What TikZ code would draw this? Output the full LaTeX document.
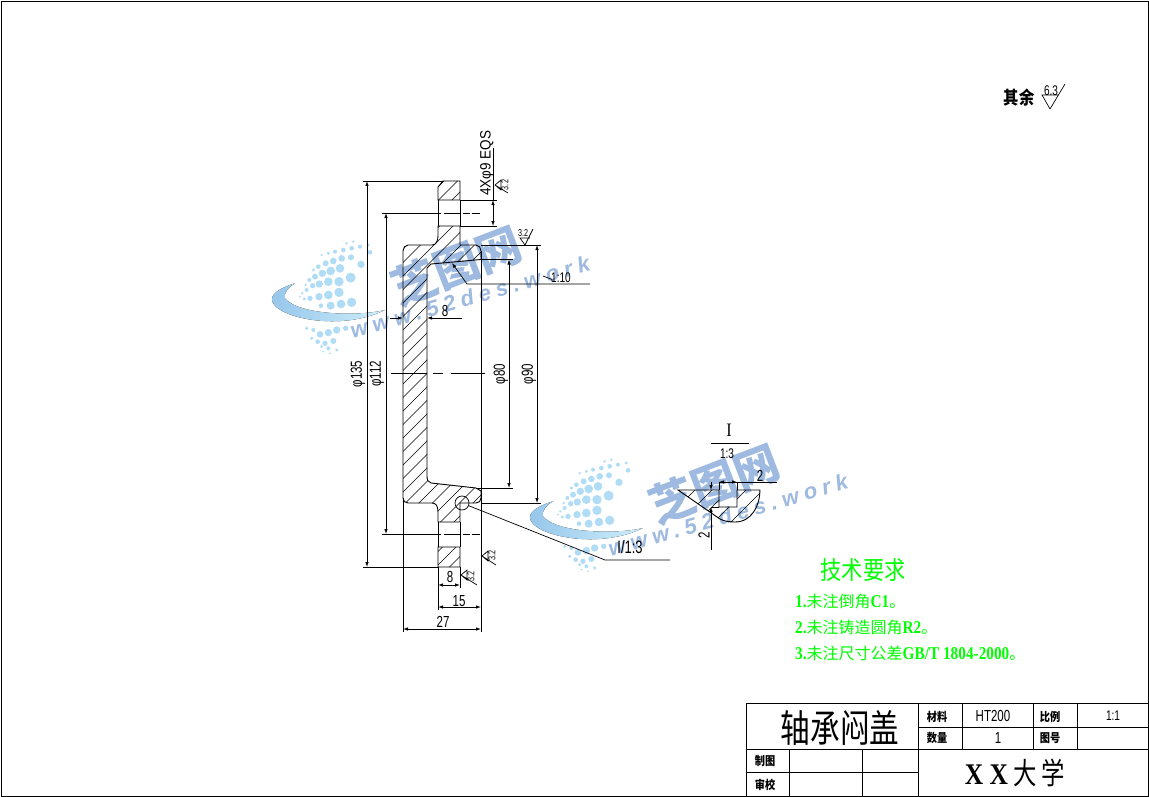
\documentclass[tikz,border=0pt]{standalone}
\usepackage{fontspec}
\usepackage{xcolor}
\usepackage{tikz}
\usetikzlibrary{arrows.meta}
\newfontfamily\dimfont[FakeStretch=0.72]{Liberation Sans}
\newfontfamily\widefont[FakeStretch=0.9]{Liberation Sans}
\newfontfamily\techfont[FakeStretch=0.85]{Liberation Serif}
\newfontfamily\cjkfont[FakeStretch=0.85]{Noto Sans CJK SC}
\newfontfamily\tallfont[FakeStretch=0.78]{Noto Sans CJK SC}
\newfontfamily\logofont{Noto Sans CJK SC}
\newfontfamily\wwwfont[LetterSpace=25]{Liberation Sans}
\newcommand{\fsz}[1]{\fontsize{#1}{#1}\selectfont}
\definecolor{wmblue}{RGB}{158,186,224}
\definecolor{wmdot}{RGB}{176,220,246}
\definecolor{wmdark}{RGB}{150,198,235}
\definecolor{wmpale}{RGB}{205,238,250}
\definecolor{techgreen}{RGB}{0,255,0}

% one copy of the site mark
\newcommand{\sitemark}[2]{
  \begin{scope}[shift={(#1,#2)}]
    \begin{scope}[shift={(265,235)},scale=0.3333]
      \foreach \dx/\dy/\dr in {265/20/4,245/25/4,285/35/6,310/30/5,315/52/7,260/40/7,235/45/7,210/50/6,190/55/5,170/60/4,
          258/67/9,230/70/10,205/78/10,182/85/9,160/95/7,145/105/5,
          288/88/11,225/100/13,197/108/13,172/115/11,150/125/9,133/135/6,122/150/4,
          257/128/15,222/140/14,190/140/13,163/147/11,143/152/8,125/165/6,112/175/4,
          222/172/14,190/180/13,162/185/11,135/190/8,118/192/5,105/185/3,
          260/202/14,228/207/13,197/212/12,168/212/7,
          242/280/8,215/285/11,190/293/11,165/298/10,145/285/6,125/280/5,
          205/318/9,180/325/8,158/320/7,140/310/5,215/345/5,190/340/6,170/335/5,195/355/3,175/350/3} {
        \fill[wmdot] (\dx,\dy) circle ({\dr});
      }
      \fill[left color=wmdark,right color=wmpale] (90,145) .. controls (40,160) and (15,180) .. (22,200)
        .. controls (40,250) and (230,290) .. (360,225) .. controls (280,245) and (100,240) .. (60,190)
        .. controls (55,175) and (70,155) .. (90,145) -- cycle;
    \end{scope}
    \node[rotate=21,text=wmblue,font=\logofont\bfseries\fsz{45}] (logo#1) at (456,266) {芝图网};
    \node[rotate=16,text=wmblue,font=\wwwfont\bfseries\itshape\fsz{22}] (url#1) at (470,297) {www.52des.work};
  \end{scope}
}

% the section, as one closed path
\newcommand{\sectionpath}{
  (443,181) -- (460,181) -- (460,200) -- (438,200) -- (438,187) -- cycle
  (438,226) -- (460,226) -- (460,245) -- (476,245) .. controls (479,245) and (481,248) .. (481,251)
  -- (481,259.5) -- (431,264) -- (427,268) -- (427,476) .. controls (427,480) and (428,482) .. (431,483)
  -- (476,488) -- (481,491) -- (481,498) .. controls (481,501) and (479,503) .. (476,503) -- (460,503)
  -- (460,522) -- (438,522) -- (438,512) .. controls (438,506) and (436,503) .. (432,503) -- (408,503)
  .. controls (405,503) and (403,501) .. (403,498) -- (403,251) .. controls (403,248) and (405,245) .. (408,245)
  -- (432,245) .. controls (436,245) and (438,241) .. (438,236) -- cycle
  (438,547) -- (460,547) -- (460,567) -- (438,567) -- cycle
}
\newcommand{\detailpath}{
  (678,490) -- (719,490) -- (719,507) -- (737,507) -- (737,490) -- (760,490)
  .. controls (760,505) and (752,522) .. (735,522) .. controls (728,522) and (724,521) .. (720,519) -- cycle
}

\begin{document}
\begin{tikzpicture}[x=1pt,y=-1pt,
    main line/.style={line width=0.9pt},
    thin line/.style={line width=0.7pt},
    hatch line/.style={line width=0.6pt},
    dim line/.style={line width=0.8pt,{Latex[length=5pt,width=3.5pt]}-{Latex[length=5pt,width=3.5pt]}},
    dim end/.style={line width=0.8pt,-{Latex[length=5pt,width=3.5pt]}},
    dim text/.style={inner sep=0pt,font=\dimfont\fsz{16}},
    ratio text/.style={inner sep=0pt,font=\dimfont\fsz{14}},
    small text/.style={inner sep=0pt,font=\dimfont\fsz{10}},
    title text/.style={inner sep=0pt,font=\cjkfont\bfseries\fsz{12}},
    tech text/.style={inner sep=0pt,anchor=west,text=techgreen,font=\logofont\fsz{16}}]

  \useasboundingbox (0,0) rectangle (1149,797);
  \fill[white] (0,0) rectangle (1149,797);
  \draw[main line] (1,1) rectangle (1148,796);

  \sitemark{0}{0}
  \sitemark{258}{218}

  % section hatching
  \begin{scope}
    \clip \sectionpath;
    \foreach \h in {611.5,625,...,1120} {
      \draw[hatch line] (\h,0) -- (\h-800,800);
    }
  \end{scope}
  \draw[main line] \sectionpath;

  % edges and extension lines
  \draw[main line] (438,200) -- (438,226) (460,200) -- (460,226);
  \draw[main line] (438,522) -- (438,547) (460,522) -- (460,547);
  \draw[main line] (481,251) -- (481,632);
  \draw[thin line] (403,498) -- (403,632);
  \draw[thin line] (438,567) -- (438,610);
  \draw[thin line] (460,567) -- (460,588);
  \draw[thin line] (363,181) -- (443,181);
  \draw[thin line] (363,567) -- (438,567);
  \draw[thin line] (460,200) -- (497,200);
  \draw[thin line] (460,226) -- (497,226);
  \draw[thin line] (481,245) -- (541,245);
  \draw[thin line] (481,503) -- (541,503);
  \draw[thin line] (481,259.5) -- (513,259.5);
  \draw[thin line] (476,488) -- (513,488);
  \draw[thin line] (382,213) -- (441,213);
  \draw[thin line] (382,534) -- (441,534);

  % centre lines
  \draw[thin line] (444,213) -- (460,213) (463,213) -- (470,213) (472,213) -- (480,213);
  \draw[thin line] (444,534) -- (460,534) (463,534) -- (470,534) (472,534) -- (480,534);
  \draw[thin line] (391,373) -- (427,373) (433,373) -- (443,373) (451,373) -- (485,373);

  % dimensions
  \draw[dim line] (367,181) -- (367,567);
  \draw[dim line] (386,213) -- (386,534);
  \draw[dim line] (509,259.5) -- (509,488);
  \draw[dim line] (537,245) -- (537,503);
  \draw[dim end] (390,318) -- (403,318);
  \draw[dim end] (462,318) -- (427,318);
  \draw[dim line] (438,585) -- (460,585);
  \draw[dim line] (438,607) -- (481,607);
  \draw[dim line] (403,629) -- (481,629);
  \draw[thin line] (493,148) -- (493,200);
  \draw[dim line] (493,200) -- (493,226);

  \node[dim text,rotate=90] (d135) at (358,374) {φ135};
  \node[dim text,rotate=90] (d112) at (377,374) {φ112};
  \node[dim text,rotate=90] (d80) at (501,374) {φ80};
  \node[dim text,rotate=90] (d90) at (529,374) {φ90};
  \node[dim text] (w8a) at (445,311) {8};
  \node[dim text] (w8b) at (450,577) {8};
  \node[dim text] (w15) at (459,601) {15};
  \node[dim text] (w27) at (443,622) {27};
  \node[inner sep=0pt,font=\widefont\fsz{15},rotate=90] (holes) at (487,163) {4Xφ9 EQS};

  % taper leader
  \coordinate (taperbend) at (467,284);
  \coordinate (taperend) at (590,284);
  \draw[thin line,{Latex[length=5pt,width=3.5pt]}-] (452,263) -- (taperbend) -- (taperend);
  \draw[thin line] (543,276) -- (552,279.5) -- (552,281);
  \node[ratio text] (taper) at (561,278) {1:10};

  % roughness marks
  \draw[thin line] (525,245) -- (520,238) -- (530,238) (525,245) -- (533,229);
  \node[small text] (r1) at (523,233) {3.2};
  \draw[thin line] (495,185) -- (501,180) -- (501,190) -- cycle (495,185) -- (508,193);
  \node[small text,rotate=90] (r2) at (505,185) {3.2};
  \draw[thin line] (482,556) -- (488,551) -- (488,561) -- cycle (482,556) -- (496,565);
  \node[small text,rotate=90] (r3) at (492,555) {3.2};
  \draw[thin line] (461,575) -- (467,570) -- (467,580) -- cycle (461,575) -- (477,585);
  \node[small text,rotate=90] (r4) at (471,576) {3.2};
  \draw[thin line] (1050,109) -- (1042,95) -- (1058,95) (1050,109) -- (1065,84);
  \node[ratio text] (r5) at (1051,91) {6.3};
  \node[inner sep=0pt,font=\cjkfont\bfseries\fsz{18}] (rest) at (1019,98) {其余};

  % detail mark
  \node[circle,draw,thin line,minimum size=14pt,inner sep=0pt] (mark) at (462,503) {};
  \coordinate (markbend) at (605,560);
  \coordinate (markend) at (670,560);
  \draw[thin line] (mark) -- (markbend) -- (markend);
  \node[inner sep=0pt,font=\dimfont\fsz{18}] (marktext) at (630,547) {I/1:3};

  % detail view
  \begin{scope}
    \clip \detailpath;
    \foreach \h in {1134,1151,...,1300} {
      \draw[hatch line] (\h,0) -- (\h-800,800);
    }
  \end{scope}
  \draw[main line] \detailpath;
  \draw[thin line] (711,443) -- (749,443);
  \node[inner sep=0pt,font=\techfont\fsz{19}] (dtitle) at (729,430) {I};
  \node[ratio text] (dscale) at (727,454) {1:3};
  \draw[thin line] (719,482) -- (719,490) (737,482) -- (737,490);
  \draw[thin line] (711,507) -- (719,507);
  \draw[thin line] (719,482) -- (777,482);
  \draw[dim end] (730,482) -- (719,482);
  \draw[dim end] (726,482) -- (737,482);
  \draw[dim end] (711,482) -- (711,490);
  \draw[dim end] (711,550) -- (711,507);
  \node[dim text] (gapw) at (760,476) {2};
  \node[dim text,rotate=90] (gaph) at (704,535) {2};

  % technical notes
  \node[inner sep=0pt,text=techgreen,font=\cjkfont\fsz{25}] (notes) at (863,570) {技术要求};
  \node[tech text] (note1) at (795,601) {{\techfont\bfseries\fsz{18}1.}未注倒角{\techfont\bfseries\fsz{18}C1}。};
  \node[tech text] (note2) at (795,627) {{\techfont\bfseries\fsz{18}2.}未注铸造圆角{\techfont\bfseries\fsz{18}R2}。};
  \node[tech text] (note3) at (795,653) {{\techfont\bfseries\fsz{18}3.}未注尺寸公差{\techfont\bfseries\fsz{18}GB/T 1804-2000}。};

  % title block
  \draw[main line] (746,796) -- (746,703) -- (1148,703);
  \draw[main line] (746,749) -- (1148,749);
  \draw[main line] (746,772) -- (918,772);
  \draw[main line] (918,703) -- (918,796);
  \draw[main line] (918,727) -- (1148,727);
  \draw[main line] (789,749) -- (789,796) (862,749) -- (862,796);
  \draw[main line] (962,703) -- (962,749) (1033,703) -- (1033,749) (1077,703) -- (1077,749);

  \node[inner sep=0pt,font=\tallfont\fsz{38}] (part) at (840,728) {轴承闷盖};
  \node[title text] (mat) at (937,717) {材料};
  \node[title text] (qty) at (937,738) {数量};
  \node[title text] (ratio) at (1050,717) {比例};
  \node[title text] (drawno) at (1050,738) {图号};
  \node[title text] (drawn) at (765,761) {制图};
  \node[title text] (check) at (765,785) {审校};
  \node[dim text] (matv) at (993,716) {HT200};
  \node[dim text] (qtyv) at (998,738) {1};
  \node[ratio text] (ratiov) at (1113,716) {1:1};
  \node[inner sep=0pt,font=\tallfont\fsz{30}] (school) at (1015,773) {{\techfont\bfseries X X} 大 学};
\end{tikzpicture}
\end{document}
